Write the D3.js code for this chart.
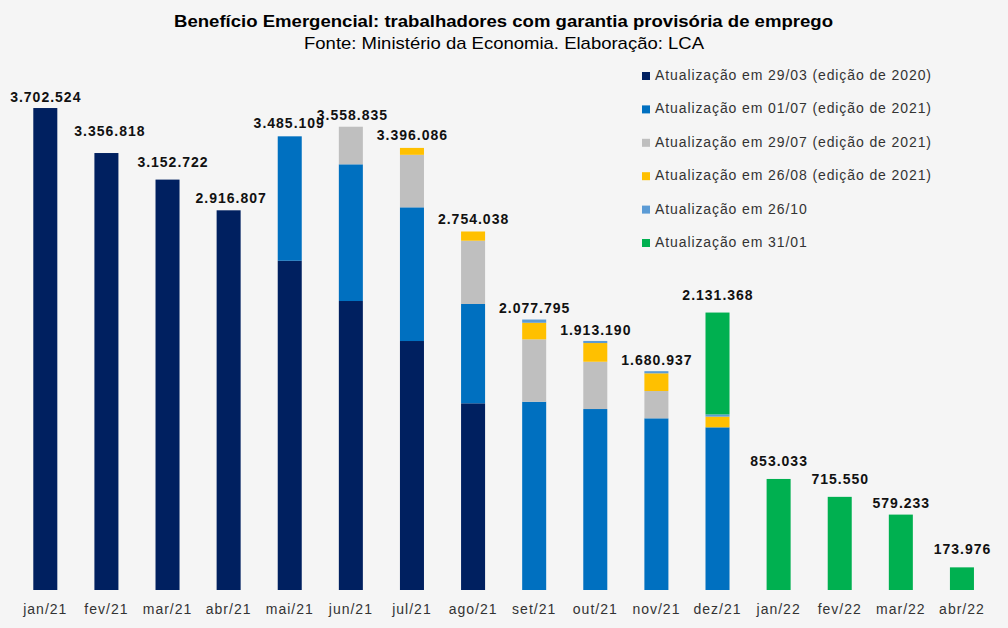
<!DOCTYPE html>
<html>
<head>
<meta charset="utf-8">
<script src="https://cdn.jsdelivr.net/npm/d3@7"></script>
<style>
  html, body { margin: 0; padding: 0; background: #f5f5f5; }
  svg { display: block; }
  text { font-family: "Liberation Sans", Arial, sans-serif; }
</style>
</head>
<body>
<svg id="chart" width="1008" height="628"></svg>
<script>
// ---------- data ----------
const months = ["jan/21","fev/21","mar/21","abr/21","mai/21","jun/21","jul/21","ago/21",
                "set/21","out/21","nov/21","dez/21","jan/22","fev/22","mar/22","abr/22"];
const seriesNames = [
  "Atualização em 29/03 (edição de 2020)",
  "Atualização em 01/07 (edição de 2021)",
  "Atualização em 29/07 (edição de 2021)",
  "Atualização em 26/08 (edição de 2021)",
  "Atualização em 26/10",
  "Atualização em 31/01"
];
const upd2903 = [3702524,3356818,3152722,2916807,2529400,2220000,1912700,1434200,0,0,0,0,0,0,0,0];
const upd0107 = [0,0,0,0,955709,1050100,1027000,762800,1446200,1390200,1318800,1249600,0,0,0,0];
const upd2907 = [0,0,0,0,0,288735,403300,486300,479300,363300,209700,0,0,0,0,0];
const upd2608 = [0,0,0,0,0,0,53086,70738,127500,143600,136000,82200,0,0,0,0];
const upd2610 = [0,0,0,0,0,0,0,0,24795,16090,16437,17000,0,0,0,0];
const upd3101 = [0,0,0,0,0,0,0,0,0,0,0,782568,853033,715550,579233,173976];
const totals  = [3702524,3356818,3152722,2916807,3485109,3558835,3396086,2754038,
                 2077795,1913190,1680937,2131368,853033,715550,579233,173976];
const totalLabels = ["3.702.524","3.356.818","3.152.722","2.916.807","3.485.109","3.558.835",
                     "3.396.086","2.754.038","2.077.795","1.913.190","1.680.937","2.131.368",
                     "853.033","715.550","579.233","173.976"];
const title = "Benefício Emergencial: trabalhadores com garantia provisória de emprego";
const subtitle = "Fonte: Ministério da Economia. Elaboração: LCA";

// ---------- layout / style ----------
const colors = ["#002060","#0070C0","#BFBFBF","#FFC000","#5B9BD5","#00B050"];
const labelLift = [6,17,13,7,8,7,8,7,7,6,6,13,13,13,7,13];
const labelShift = [0,3,5,2,-1,1,0,0,0,0,0,0,0,0,0,0];

const svg = d3.select("#chart");
const W = 1008, H = 628;
svg.append("rect").attr("width", W).attr("height", H).attr("fill", "#f5f5f5");

const seriesArrays = [upd2903, upd0107, upd2907, upd2608, upd2610, upd3101];
const rows = months.map((m, i) => {
  const r = { month: m };
  seriesNames.forEach((s, k) => r[s] = seriesArrays[k][i]);
  return r;
});
const stacked = d3.stack().keys(seriesNames)(rows);

const x = d3.scaleBand().domain(months).range([14.75, 992.5])
  .paddingInner(0.607).paddingOuter(0.3035);
const y = d3.scaleLinear().domain([0, 4000000]).range([590, 69.3]);

const g = svg.append("g");
g.selectAll("g.series").data(stacked).join("g")
  .attr("class", "series")
  .attr("fill", (d, i) => colors[i])
  .selectAll("rect").data(d => d.map((v, i) => ({ v, i })).filter(e => e.v[1] - e.v[0] > 0))
  .join("rect")
  .attr("x", e => x(months[e.i]))
  .attr("width", x.bandwidth())
  .attr("y", e => y(e.v[1]))
  .attr("height", e => y(e.v[0]) - y(e.v[1]));

// total labels
g.selectAll("text.tot").data(totals).join("text")
  .attr("class", "tot")
  .attr("x", (d, i) => x(months[i]) + x.bandwidth() / 2 + labelShift[i] + 0.5)
  .attr("y", (d, i) => y(d) - labelLift[i])
  .attr("text-anchor", "middle")
  .attr("font-size", 14)
  .attr("font-weight", "bold")
  .attr("letter-spacing", "1px")
  .attr("fill", "#111")
  .text((d, i) => totalLabels[i]);

// x axis
const xAxis = d3.axisBottom(x).tickSize(0).tickPadding(0);
const ax = svg.append("g").attr("transform", "translate(0,590)").call(xAxis);
ax.select(".domain").remove();
ax.selectAll("text")
  .attr("y", 24)
  .attr("dy", 0)
  .attr("font-size", 14)
  .attr("letter-spacing", "1px")
  .attr("font-family", "Liberation Sans, Arial, sans-serif")
  .attr("fill", "#333");

// title
svg.append("text").attr("x", 503.5).attr("y", 27).attr("text-anchor", "middle")
  .attr("font-size", 17).attr("font-weight", "bold").attr("fill", "#000")
  .attr("textLength", 659).attr("lengthAdjust", "spacingAndGlyphs")
  .text(title);
svg.append("text").attr("x", 504).attr("y", 49).attr("text-anchor", "middle")
  .attr("font-size", 17).attr("fill", "#000")
  .attr("textLength", 400).attr("lengthAdjust", "spacingAndGlyphs")
  .text(subtitle);

// legend
const leg = svg.append("g");
const legY = d3.scalePoint().domain(seriesNames).range([80, 247]);
const li = leg.selectAll("g").data(seriesNames).join("g")
  .attr("transform", d => `translate(0,${legY(d)})`);
li.append("rect").attr("x", 642).attr("y", -8).attr("width", 8).attr("height", 8)
  .attr("fill", (d, i) => colors[i]);
li.append("text").attr("x", 655).attr("y", 0)
  .attr("font-size", 14).attr("letter-spacing", "0.9px").attr("fill", "#333")
  .text(d => d);
</script>
</body>
</html>
